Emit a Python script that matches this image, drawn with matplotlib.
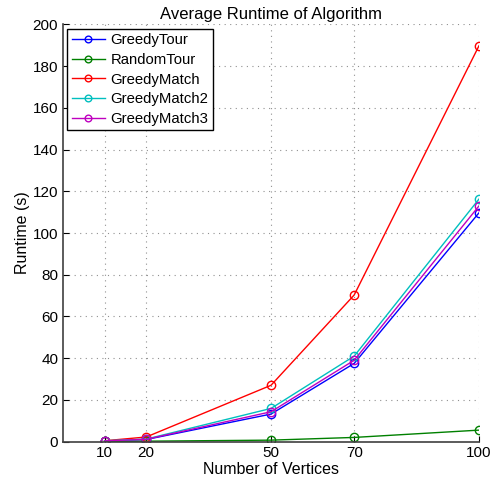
import numpy as np
import matplotlib
matplotlib.use("Agg")
import matplotlib.pyplot as plt

plt.rcParams['font.family'] = ['Liberation Sans', 'DejaVu Sans']

# vertex counts and average runtimes (s)
vertices = [10, 20, 50, 70, 100]
greedy_tour = [0.3, 1.0, 13.2, 37.5, 109.7]
random_tour = [0.05, 0.2, 0.7, 2.0, 5.5]
greedy_match = [0.4, 2.2, 27.0, 70.3, 189.8]
greedy_match2 = [0.4, 1.2, 15.9, 41.0, 116.3]
greedy_match3 = [0.35, 1.1, 14.3, 39.0, 113.0]

series = [
    ("GreedyTour", greedy_tour, (0, 0, 1)),
    ("RandomTour", random_tour, (0, 0.5, 0)),
    ("GreedyMatch", greedy_match, (1, 0, 0)),
    ("GreedyMatch2", greedy_match2, (0, 0.75, 0.75)),
    ("GreedyMatch3", greedy_match3, (0.75, 0, 0.75)),
]

fig = plt.figure(figsize=(5, 4.8), dpi=100)
ax = fig.add_axes([0.126, 0.080, 0.832, 0.869])

for name, vals, col in series:
    ax.plot(vertices, vals, '-o', color=col, label=name, linewidth=1.0,
            markersize=6, markerfacecolor='none', markeredgewidth=1.0)

ax.set_xlim(0, 100)
ax.set_ylim(0, 200)
ax.set_xticks(vertices)
ax.set_yticks(np.arange(0, 201, 20))
ax.grid(True, linestyle=(0, (1, 4)), color='#909090', linewidth=0.8)
ax.set_axisbelow(True)

for s in ['top', 'right']:
    ax.spines[s].set_visible(False)
for s in ['left', 'bottom']:
    ax.spines[s].set_color('#404040')
    ax.spines[s].set_linewidth(1.2)
ax.tick_params(direction='in', length=4, labelsize=11, colors='black')

ax.set_title("Average Runtime of Algorithm", fontsize=12, pad=4)
ax.set_xlabel("Number of Vertices", fontsize=11.5, labelpad=1)
ax.set_ylabel("Runtime (s)", fontsize=11.5, labelpad=2)

leg = ax.legend(loc='upper left', fontsize=10.7, fancybox=False, framealpha=1,
                edgecolor='black', borderaxespad=0.3, handlelength=2.2,
                labelspacing=0.38, borderpad=0.3, handletextpad=0.4,
                markerscale=0.8)
leg.get_frame().set_linewidth(1.0)

fig.savefig("out.png", dpi=100)
